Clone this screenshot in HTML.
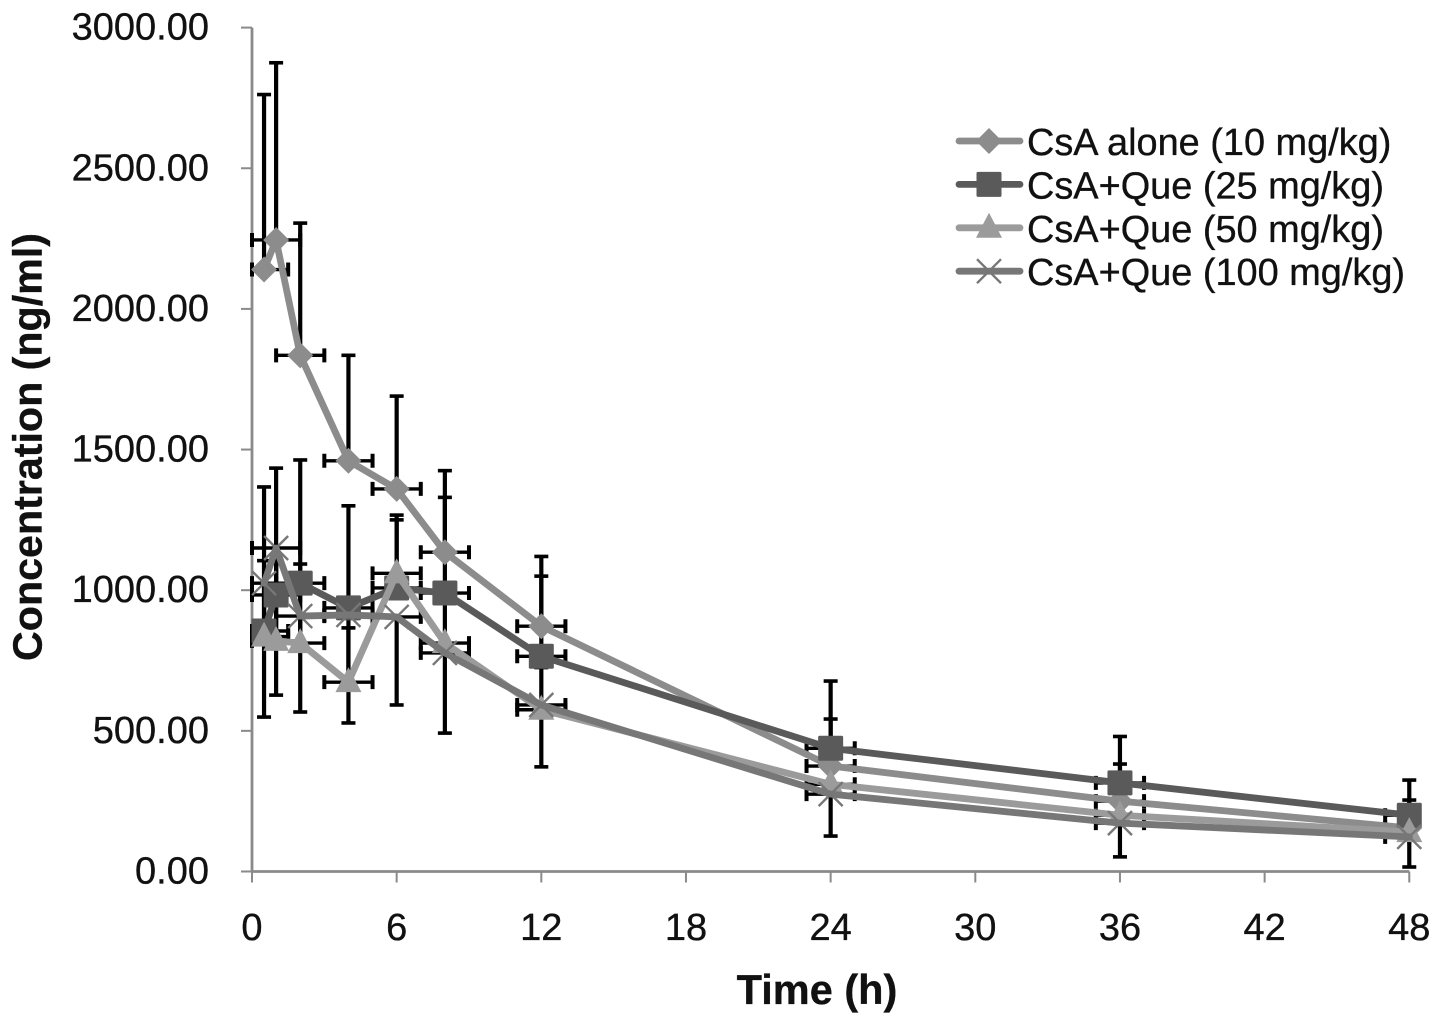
<!DOCTYPE html>
<html lang="en">
<head>
<meta charset="utf-8">
<title>Concentration over time</title>
<style>
html,body{margin:0;padding:0;background:#fff;width:1441px;height:1025px;overflow:hidden}
svg{display:block}
text{font-family:"Liberation Sans",Arial,sans-serif;fill:#111;stroke:#111;stroke-width:0.35px}
</style>
</head>
<body>
<svg id="chart" xmlns="http://www.w3.org/2000/svg" width="1441" height="1025" viewBox="0 0 1441 1025">
  <rect width="1441" height="1025" fill="#fff"/>
  <g id="axes"></g>
  <g id="errors"></g>
  <g id="series"></g>
  <g id="legend"></g>
  <text x="817" y="1004" font-size="41.5" font-weight="bold" text-anchor="middle">Time (h)</text>
  <text transform="translate(41.5,447) rotate(-90)" font-size="41.2" font-weight="bold" text-anchor="middle">Concentration (ng/ml)</text>
</svg>
<script>
const times = [0.5, 1, 2, 4, 6, 8, 12, 24, 36, 48];
const xTicks = [0, 6, 12, 18, 24, 30, 36, 42, 48];
const yTicks = [0, 500, 1000, 1500, 2000, 2500, 3000];
const yTickLabels = ['0.00', '500.00', '1000.00', '1500.00', '2000.00', '2500.00', '3000.00'];
const timeError = 1;

const aloneValues = [2140, 2245, 1835, 1460, 1360, 1135, 872, 375, 250, 155];
const aloneUp = [622, 630, 470, 375, 330, 290, 248, 302, 230, 170];
const aloneDown = [0, 0, 0, 0, 0, 0, 0, 0, 0, 0];

const que25Values = [855, 983, 1025, 937, 1008, 990, 765, 438, 315, 200];
const que25Up = [512, 451, 438, 363, 259, 340, 285, 104, 67, 54];
const que25Down = [0, 0, 0, 0, 0, 0, 0, 0, 0, 0];

const que50Values = [835, 820, 812, 673, 1060, 812, 575, 310, 200, 140];
const que50Up = [270, 277, 281, 193, 190, 200, 150, 120, 90, 70];
const que50Down = [0, 0, 0, 0, 0, 0, 0, 0, 0, 0];

const que100Values = [1025, 1150, 908, 912, 905, 777, 592, 275, 172, 123];
const que100Up = [0, 0, 0, 0, 0, 0, 0, 0, 0, 0];
const que100Down = [476, 523, 341, 384, 313, 285, 220, 149, 120, 107];

const seriesNames = ['CsA alone (10 mg/kg)', 'CsA+Que (25 mg/kg)', 'CsA+Que (50 mg/kg)', 'CsA+Que (100 mg/kg)'];
const seriesSlugs = ['csa-alone', 'csa-que-25', 'csa-que-50', 'csa-que-100'];
const seriesValues = [aloneValues, que25Values, que50Values, que100Values];
const seriesUp = [aloneUp, que25Up, que50Up, que100Up];
const seriesDown = [aloneDown, que25Down, que50Down, que100Down];
const seriesColors = ['#8c8c8c', '#5a5a5a', '#9b9b9b', '#777777'];
const seriesMarkers = ['diamond', 'square', 'triangle', 'cross'];

const NS = 'http://www.w3.org/2000/svg';
const X0 = 252, PX_PER_H = 24.11, Y0 = 871.5, PX_PER_UNIT = 0.2813;
function xScale(t) { return X0 + t * PX_PER_H; }
function yScale(v) { return Y0 - v * PX_PER_UNIT; }

function make(tag, attrs, parent) {
  const n = document.createElementNS(NS, tag);
  for (const k in attrs) n.setAttribute(k, attrs[k]);
  parent.appendChild(n);
  return n;
}

function drawMarker(type, cx, cy, color, parent) {
  let m;
  if (type === 'diamond') {
    m = make('polygon', {points: `${cx},${cy-13} ${cx+13},${cy} ${cx},${cy+13} ${cx-13},${cy}`, fill: color}, parent);
  } else if (type === 'square') {
    m = make('rect', {x: cx-12.5, y: cy-12.5, width: 25, height: 25, rx: 1.5, fill: color}, parent);
  } else if (type === 'triangle') {
    m = make('polygon', {points: `${cx},${cy-15} ${cx+13},${cy+10} ${cx-13},${cy+10}`, fill: color}, parent);
  } else {
    m = make('path', {d: `M${cx-12},${cy-12}L${cx+12},${cy+12}M${cx-12},${cy+12}L${cx+12},${cy-12}`, stroke: color, 'stroke-width': 2.4, fill: 'none'}, parent);
  }
  return m;
}

const axes = document.getElementById('axes');
const yAxisLine = make('line', {x1: X0, y1: yScale(3000), x2: X0, y2: Y0, stroke: '#8a8a8a', 'stroke-width': 2.8}, axes);


const xAxisLine = make('line', {x1: X0, y1: Y0, x2: xScale(48), y2: Y0, stroke: '#8a8a8a', 'stroke-width': 2.8}, axes);



yTicks.forEach((v, i) => {
  const tick = make('line', {x1: X0 - 11, y1: yScale(v), x2: X0, y2: yScale(v), stroke: '#8a8a8a', 'stroke-width': 2}, axes);
  
  
  const label = make('text', {x: 209, y: yScale(v) + 12, 'font-size': 38, 'text-anchor': 'end'}, axes);
  label.textContent = yTickLabels[i];
  
  
});

xTicks.forEach((t) => {
  const tick = make('line', {x1: xScale(t), y1: Y0, x2: xScale(t), y2: Y0 + 11, stroke: '#8a8a8a', 'stroke-width': 2}, axes);
  
  
  const label = make('text', {x: xScale(t), y: 940, 'font-size': 38, 'text-anchor': 'middle'}, axes);
  label.textContent = String(t);
  
  
});

const errors = document.getElementById('errors');
seriesValues.forEach((vals, s) => {
  vals.forEach((v, i) => {
    const t = times[i], x = xScale(t), y = yScale(v);
    const g = make('g', {stroke: '#000', fill: 'none'}, errors);
    
    
    const xl = xScale(Math.max(t - timeError, 0));
    const xr = xScale(Math.min(t + timeError, 48));
    make('path', {d: `M${xl},${y}H${xr}`, 'stroke-width': 3.4}, g);
    make('path', {d: `M${xl},${y-7}V${y+7}M${xr},${y-7}V${y+7}`, 'stroke-width': 4}, g);
    if (seriesUp[s][i] > 0) {
      const top = yScale(v + seriesUp[s][i]);
      make('path', {d: `M${x},${y}V${top}`, 'stroke-width': 4.2}, g);
      make('path', {d: `M${x-7},${top}H${x+7}`, 'stroke-width': 3.6}, g);
    }
    if (seriesDown[s][i] > 0) {
      const bot = yScale(v - seriesDown[s][i]);
      make('path', {d: `M${x},${y}V${bot}`, 'stroke-width': 4.2}, g);
      make('path', {d: `M${x-7},${bot}H${x+7}`, 'stroke-width': 3.6}, g);
    }
  });
});

const seriesLayer = document.getElementById('series');
seriesValues.forEach((vals, s) => {
  const g = make('g', {}, seriesLayer);
  
  
  const pts = vals.map((v, i) => xScale(times[i]) + ',' + yScale(v)).join(' ');
  const line = make('polyline', {points: pts, fill: 'none', stroke: seriesColors[s], 'stroke-width': 6.8, 'stroke-linejoin': 'round', 'stroke-linecap': 'round'}, g);
  
  
  vals.forEach((v, i) => {
    const mark = drawMarker(seriesMarkers[s], xScale(times[i]), yScale(v), seriesColors[s], g);
    
    
  });
});

const legend = document.getElementById('legend');
seriesNames.forEach((name, s) => {
  const rowY = 141 + s * 43.4;
  const g = make('g', {}, legend);
  
  
  const swatch = make('line', {x1: 959, y1: rowY, x2: 1020, y2: rowY, stroke: seriesColors[s], 'stroke-width': 6.8, 'stroke-linecap': 'round'}, g);
  
  
  const mk = drawMarker(seriesMarkers[s], 989, rowY, seriesColors[s], g);
  
  
  const label = make('text', {x: 1027, y: rowY + 14, 'font-size': 37.9}, g);
  label.textContent = name;
  
  
});
</script>
</body>
</html>
